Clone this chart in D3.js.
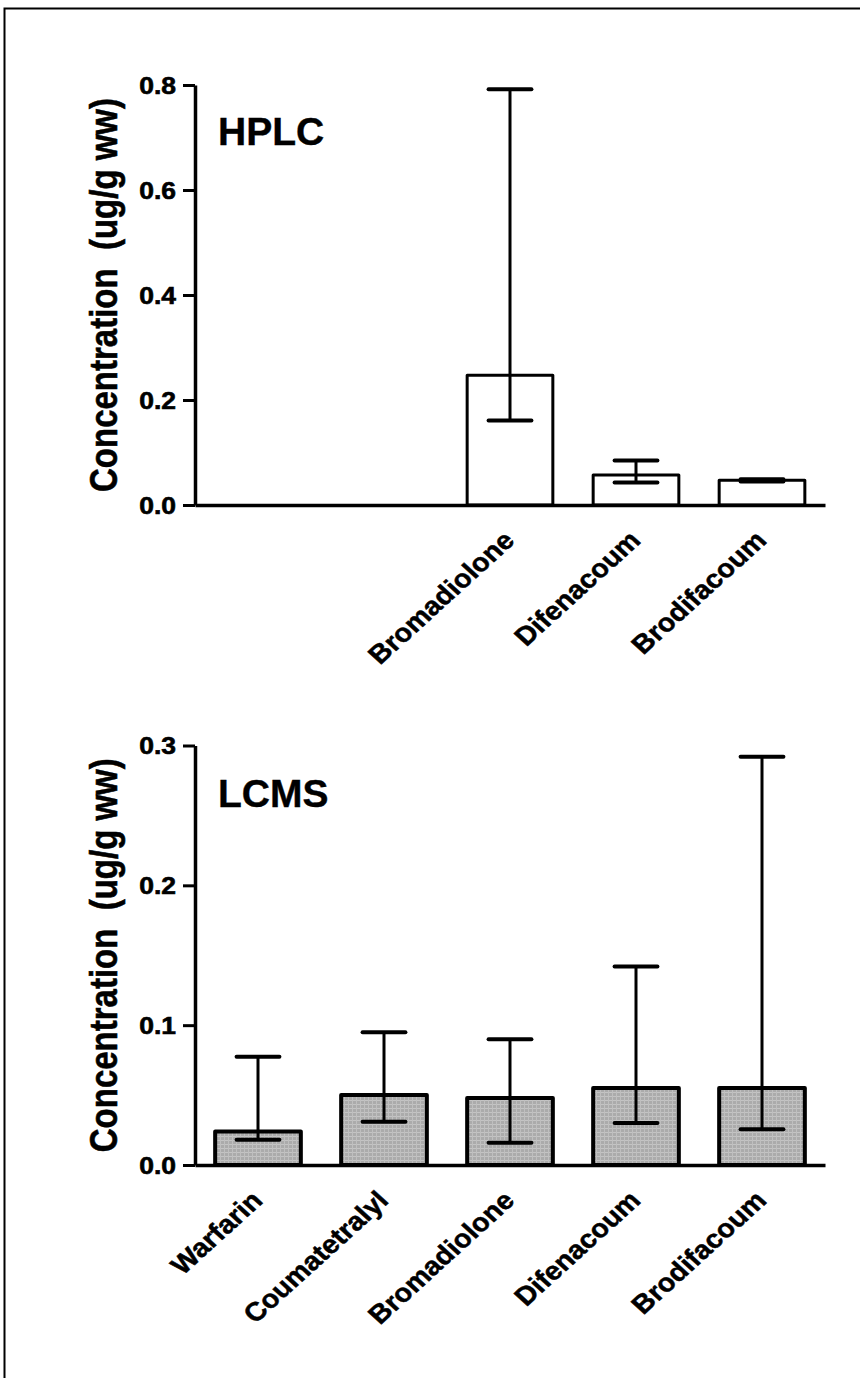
<!DOCTYPE html>
<html><head><meta charset="utf-8">
<script src="https://cdn.jsdelivr.net/npm/d3@7"></script>
<style>html,body{margin:0;padding:0;background:#fff}</style>
</head><body>
<svg id="chart" width="860" height="1378"></svg>
<script>
// ---- data ----
const categories = ["Warfarin", "Coumatetralyl", "Bromadiolone", "Difenacoum", "Brodifacoum"];

const hplcLabels = ["", "", "Bromadiolone", "Difenacoum", "Brodifacoum"];
const hplcMean = [null, 0, 0.247, 0.057, 0.047];
const hplcLow  = [null, 0, 0.161, 0.043, 0.045];
const hplcHigh = [null, 0, 0.792, 0.085, 0.049];
const hplcTicks = [0, 0.2, 0.4, 0.6, 0.8];

const lcmsLabels = ["Warfarin", "Coumatetralyl", "Bromadiolone", "Difenacoum", "Brodifacoum"];
const lcmsMean = [0.024, 0.050, 0.048, 0.055, 0.055];
const lcmsLow  = [0.018, 0.031, 0.016, 0.030, 0.0255];
const lcmsHigh = [0.0775, 0.095, 0.090, 0.142, 0.292];
const lcmsTicks = [0, 0.1, 0.2, 0.3];

const yTitle = "Concentration\u00a0 (ug/g ww)";

// ---- drawing ----
const svg = d3.select("#chart");
const FONT = "'Liberation Sans', Arial, Helvetica, sans-serif";

// frame
svg.append("rect").attr("x", 4.5).attr("y", 8.5).attr("width", 900).attr("height", 1400)
  .attr("fill", "none").attr("stroke", "#000").attr("stroke-width", 2);

// gray texture pattern
const defs = svg.append("defs");
const pat = defs.append("pattern").attr("id", "grayTex").attr("patternUnits", "userSpaceOnUse")
  .attr("width", 4).attr("height", 4);
pat.append("rect").attr("width", 4).attr("height", 4).attr("fill", "#ababab");
pat.append("rect").attr("x", 0).attr("y", 0).attr("width", 4).attr("height", 1).attr("fill", "#c4c4c4");
pat.append("rect").attr("x", 0).attr("y", 0).attr("width", 1).attr("height", 4).attr("fill", "#bfbfbf");

function panel(cfg) {
  const g = svg.append("g");
  const x = d3.scaleBand().domain(categories).range([195, 825]).paddingInner(0.32).paddingOuter(0.16);
  const y = d3.scaleLinear().domain([0, cfg.ymax]).range([cfg.y0, cfg.y1]);

  const rows = categories.map((c, i) => ({ c, label: cfg.labels[i], v: cfg.mean[i], lo: cfg.low[i], hi: cfg.high[i] }));
  const bw = x.bandwidth();

  // bars
  g.selectAll("rect.bar").data(rows.filter(d => d.v !== null)).join("rect")
    .attr("class", "bar")
    .attr("x", d => x(d.c)).attr("width", bw)
    .attr("y", d => y(d.v)).attr("height", d => y(0) - y(d.v))
    .attr("fill", cfg.fill).attr("stroke", "#000").attr("stroke-width", cfg.barStroke)
    .attr("stroke-linejoin", "round");

  // error bars
  const eb = rows.filter(d => d.v !== null && d.hi > d.lo);
  g.selectAll("line.ev").data(eb).join("line")
    .attr("x1", d => x(d.c) + bw / 2).attr("x2", d => x(d.c) + bw / 2)
    .attr("y1", d => y(d.hi)).attr("y2", d => y(d.lo))
    .attr("stroke", "#000").attr("stroke-width", 3);
  ["hi", "lo"].forEach(k => {
    g.selectAll("line.cap" + k).data(eb).join("line")
      .attr("x1", d => x(d.c) + bw / 4).attr("x2", d => x(d.c) + bw * 3 / 4)
      .attr("y1", d => y(d[k])).attr("y2", d => y(d[k]))
      .attr("stroke", "#000").attr("stroke-width", 4).attr("stroke-linecap", "round");
  });

  // y axis
  const ya = g.append("g").attr("transform", "translate(195,0)")
    .call(d3.axisLeft(y).tickValues(cfg.ticks).tickFormat(d3.format(".1f")).tickSize(12).tickSizeOuter(0));
  ya.select(".domain").attr("stroke-width", 3.5);
  ya.selectAll(".tick line").attr("stroke-width", 3);
  ya.selectAll(".tick text").attr("x", null).attr("dy", "0.36em")
    .attr("transform", "translate(-19,0) scale(1.15,1)")
    .attr("font-family", FONT).attr("font-weight", "bold").attr("font-size", 23).attr("fill", "#000")
    .attr("stroke", "#000").attr("stroke-width", 0.6);

  // x axis
  const xa = g.append("g").attr("transform", `translate(0,${cfg.y0})`)
    .call(d3.axisBottom(x).tickSize(0).tickSizeOuter(0).tickFormat((d, i) => cfg.labels[i]));
  xa.select(".domain").attr("stroke-width", 3.5);
  xa.selectAll(".tick text").attr("y", null).attr("dy", null)
    .attr("text-anchor", "end")
    .attr("transform", "translate(6,37) scale(1.1,1) rotate(-45)")
    .attr("font-family", FONT).attr("font-weight", "bold").attr("font-size", 26).attr("fill", "#000")
    .attr("stroke", "#000").attr("stroke-width", 0.5);

  // y title
  g.append("text").attr("text-anchor", "middle")
    .attr("transform", `translate(117,${(cfg.y0 + cfg.y1) / 2}) scale(1.2,1) rotate(-90)`)
    .attr("font-family", FONT).attr("font-weight", "bold").attr("font-size", 33)
    .attr("stroke", "#000").attr("stroke-width", 0.5)
    .text(yTitle);

  // panel name
  g.append("text").attr("x", 218).attr("y", cfg.nameY)
    .attr("font-family", FONT).attr("font-weight", "bold").attr("font-size", 39)
    .attr("stroke", "#000").attr("stroke-width", 0.4)
    .text(cfg.name);
}

panel({ name: "HPLC", nameY: 145, labels: hplcLabels, mean: hplcMean, low: hplcLow, high: hplcHigh,
  ticks: hplcTicks, ymax: 0.8, y0: 505, y1: 85, fill: "#fff", barStroke: 3 });
panel({ name: "LCMS", nameY: 807, labels: lcmsLabels, mean: lcmsMean, low: lcmsLow, high: lcmsHigh,
  ticks: lcmsTicks, ymax: 0.3, y0: 1165, y1: 745.5, fill: "url(#grayTex)", barStroke: 4 });
</script>
</body></html>
